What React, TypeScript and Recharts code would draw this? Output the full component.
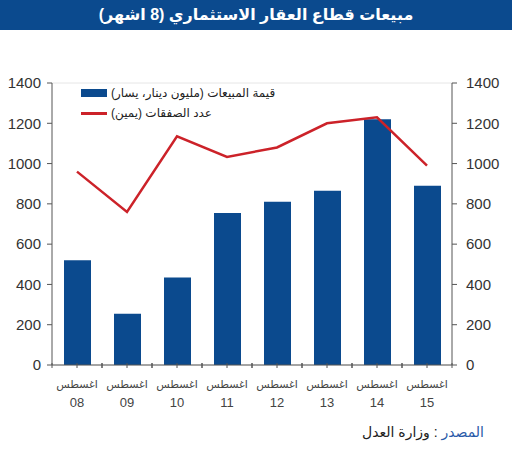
import {
    ComposedChart,
    Bar,
    Line,
    XAxis,
    YAxis,
    CartesianGrid
} from "recharts"

const months = ["08", "09", "10", "11", "12", "13", "14", "15"]
const salesValue = [520, 255, 435, 755, 810, 865, 1220, 890]
const dealCount = [960, 760, 1135, 1033, 1080, 1200, 1230, 990]
const yTicks = [0, 200, 400, 600, 800, 1000, 1200, 1400]

const data = months.map((m, i) => ({
    month: m,
    sales: salesValue[i],
    deals: dealCount[i]
}))

const FONT = "'Liberation Sans', 'DejaVu Sans', Arial, sans-serif"
const BLUE = "#0b4a8e"
const RED = "#cc2229"
const AXIS = "#555555"

function MonthTick(props: any) {
    const { x, y, payload } = props
    const half = 25
    return (
        <g>
            <line x1={x - half} x2={x - half} y1={y - 2} y2={y + 3} stroke={AXIS} />
            <line x1={x} x2={x} y1={y - 2} y2={y + 3} stroke={AXIS} />
            <line x1={x + half} x2={x + half} y1={y - 2} y2={y + 3} stroke={AXIS} />
            <text x={x} y={y + 23} textAnchor="middle" fontSize={11} fill="#444" fontFamily={FONT}>
                اغسطس
            </text>
            <text x={x} y={y + 42} textAnchor="middle" fontSize={13} fill="#444" fontFamily={FONT}>
                {payload.value}
            </text>
        </g>
    )
}

function ChartLegend() {
    const row = { display: "flex", alignItems: "center", height: 20 }
    const label = { fontSize: 12, color: "#222", marginLeft: 4, direction: "rtl" as const }
    return (
        <div style={{ position: "absolute", left: 81, top: 83, fontFamily: FONT }}>
            <div style={row}>
                <span style={{ width: 26, height: 8, background: BLUE, display: "inline-block" }} />
                <span style={label}>قيمة المبيعات (مليون دينار، يسار)</span>
            </div>
            <div style={row}>
                <span style={{ width: 26, height: 3, background: RED, display: "inline-block" }} />
                <span style={label}>عدد الصفقات (يمين)</span>
            </div>
        </div>
    )
}

export default function App() {

    return (

        <div style={{ position: "absolute", left: 0, top: 0, width: 512, height: 450, background: "#fff", fontFamily: FONT }}>

            <div style={{ position: "absolute", left: 0, top: 0, width: 512, height: 30, background: BLUE, color: "#fff", fontWeight: "bold", fontSize: 16, textAlign: "center", lineHeight: "30px" }} dir="rtl">
                مبيعات قطاع العقار الاستثماري (8 اشهر)
            </div>

            <ComposedChart
                width={512}
                height={450}
                data={data}
                margin={{ top: 83, right: 0, bottom: 45, left: 0 }}
            >

                <CartesianGrid vertical={false} stroke="#e6e6e6" />

                <XAxis
                    dataKey="month"
                    tick={<MonthTick />}
                    tickLine={false}
                    tickSize={0}
                    tickMargin={0}
                    height={40}
                    stroke={AXIS}
                    interval={0}
                />

                <YAxis
                    yAxisId="left"
                    domain={[0, 1400]}
                    ticks={yTicks}
                    width={52}
                    stroke={AXIS}
                    tick={{ fill: "#333", fontSize: 15 }}
                    tickSize={5}
                    tickMargin={6}
                />

                <YAxis
                    yAxisId="right"
                    orientation="right"
                    domain={[0, 1400]}
                    ticks={yTicks}
                    width={60}
                    stroke={AXIS}
                    tick={{ fill: "#333", fontSize: 15, textAnchor: "start" }}
                    tickSize={5}
                    tickMargin={9}
                />

                <Bar yAxisId="left" dataKey="sales" fill={BLUE} barSize={27} isAnimationActive={false} />

                <Line yAxisId="right" dataKey="deals" stroke={RED} strokeWidth={2.5} dot={false} isAnimationActive={false} />

            </ComposedChart>

            <ChartLegend />

            <div style={{ position: "absolute", right: 28, top: 424, fontSize: 14, color: "#222" }} dir="rtl">
                <span style={{ color: "#2a5aa8" }}>المصدر</span> : وزارة العدل
            </div>

        </div>

    )

}
